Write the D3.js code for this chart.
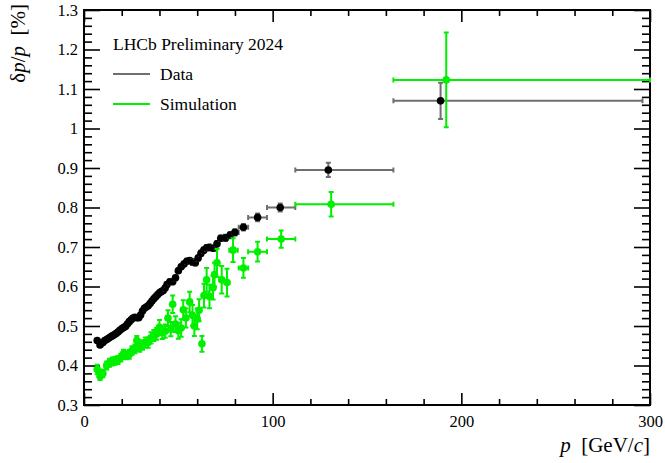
<!DOCTYPE html>
<html>
<head>
<meta charset="utf-8">
<script src="https://cdn.jsdelivr.net/npm/d3@7"></script>
<style>
  body { margin: 0; background: #fff; }
  svg text { font-family: "Liberation Serif", "Times New Roman", serif; fill: #000; }
  .title { white-space: pre; }
</style>
</head>
<body>
<div id="chart"></div>
<script>
// rows: [p, resolution, binLow, binHigh, resolutionErr]
const dataPoints = [
    [7, 0.463, 6, 8, 0.005], [8.5, 0.452, 8, 9, 0.005], [10, 0.458, 9.5, 10.5, 0.005],
    [11, 0.463, 10.5, 11.5, 0.005], [12, 0.466, 11.5, 12.5, 0.005], [13, 0.469, 12.5, 13.5, 0.005],
    [14, 0.472, 13.5, 14.5, 0.005], [15, 0.475, 14.5, 15.5, 0.005], [16, 0.478, 15.5, 16.5, 0.005],
    [17, 0.481, 16.5, 17.5, 0.005], [18, 0.485, 17.5, 18.5, 0.005], [19, 0.489, 18.5, 19.5, 0.005],
    [20, 0.493, 19.5, 20.5, 0.005], [21, 0.496, 20.5, 21.5, 0.005], [22, 0.499, 21.5, 22.5, 0.005],
    [23, 0.505, 22.5, 23.5, 0.005], [24, 0.511, 23.5, 24.5, 0.005], [25, 0.516, 24.5, 25.5, 0.005],
    [26, 0.520, 25.5, 26.5, 0.005], [27, 0.522, 26.5, 27.5, 0.005], [28, 0.521, 27.5, 28.5, 0.005],
    [29, 0.521, 28.5, 29.5, 0.005], [30, 0.528, 29.5, 30.5, 0.005], [31, 0.538, 30.5, 31.5, 0.005],
    [32, 0.545, 31.5, 32.5, 0.005], [33, 0.548, 32.5, 33.5, 0.005], [34, 0.551, 33.5, 34.5, 0.005],
    [35, 0.557, 34.5, 35.5, 0.005], [36, 0.563, 35.5, 36.5, 0.005], [37, 0.569, 36.5, 37.5, 0.005],
    [38, 0.574, 37.5, 38.5, 0.005], [39, 0.579, 38.5, 39.5, 0.005], [40, 0.584, 39.5, 40.5, 0.005],
    [41, 0.587, 40.5, 41.5, 0.006], [42, 0.590, 41.5, 42.5, 0.006], [43, 0.596, 42.5, 43.5, 0.006],
    [44, 0.605, 43.5, 44.75, 0.006], [45.5, 0.612, 44.75, 46.25, 0.006], [47, 0.612, 46.25, 47.75, 0.006],
    [48.5, 0.622, 47.75, 49.25, 0.006], [50, 0.640, 49.25, 50.75, 0.006], [51.5, 0.650, 50.75, 52.25, 0.006],
    [53, 0.657, 52.25, 53.75, 0.006], [54.5, 0.664, 53.75, 55.25, 0.006], [56, 0.666, 55.25, 56.75, 0.006],
    [57.5, 0.662, 56.75, 58.25, 0.007], [59, 0.660, 58.25, 59.75, 0.007], [60.5, 0.672, 59.75, 61.25, 0.007],
    [62, 0.684, 61.25, 62.75, 0.007], [63.5, 0.692, 62.75, 64.25, 0.007], [65, 0.698, 64.25, 65.75, 0.007],
    [66.5, 0.699, 65.75, 67.5, 0.007], [68.5, 0.697, 67.5, 69.5, 0.007], [70.5, 0.708, 69.5, 71.5, 0.007],
    [72.5, 0.722, 71.5, 73.75, 0.007], [75, 0.723, 73.75, 76.25, 0.008], [77.5, 0.730, 76.25, 78.75, 0.008],
    [80, 0.737, 78.75, 82, 0.008], [84.5, 0.750, 82, 87, 0.008], [92, 0.775, 87, 97, 0.010],
    [104, 0.800, 97, 112, 0.010], [129.5, 0.895, 112, 164, 0.018], [189, 1.070, 164, 296, 0.046]
];

const simPoints = [
    [7, 0.390, 6, 8, 0.012], [8.5, 0.373, 8, 9, 0.010], [10, 0.380, 9.5, 10.5, 0.010],
    [12, 0.400, 11.5, 12.5, 0.010], [13.5, 0.407, 13, 14, 0.010], [15, 0.410, 14.5, 15.5, 0.010],
    [16.5, 0.412, 16, 17, 0.010], [18, 0.414, 17.5, 18.5, 0.010], [19.5, 0.420, 19, 20, 0.010],
    [21, 0.430, 20.5, 21.5, 0.010], [22.5, 0.426, 22, 23, 0.010], [24, 0.428, 23.5, 24.5, 0.011],
    [25.5, 0.438, 25, 26, 0.011], [27, 0.442, 26.5, 27.5, 0.011], [28, 0.463, 27.5, 28.5, 0.012],
    [29.5, 0.447, 29, 30, 0.012], [31, 0.452, 30.5, 31.5, 0.012], [32.5, 0.458, 32, 33, 0.013],
    [34, 0.458, 33.5, 34.5, 0.013], [35.5, 0.470, 35, 36, 0.014], [37, 0.476, 36.5, 37.5, 0.014],
    [38.5, 0.480, 38, 39, 0.015], [40, 0.497, 39.5, 40.5, 0.018], [41.5, 0.483, 41, 42, 0.016],
    [43, 0.487, 42.5, 43.5, 0.017], [44.5, 0.520, 44, 45, 0.020], [46, 0.492, 45.5, 46.5, 0.018],
    [47, 0.555, 46.5, 47.5, 0.022], [48.5, 0.505, 48, 49, 0.020], [50, 0.488, 49.5, 50.5, 0.020],
    [51.5, 0.495, 51, 52, 0.022], [52.6, 0.541, 52, 53.2, 0.024], [54, 0.520, 53.5, 54.5, 0.024],
    [56, 0.561, 55.5, 56.5, 0.026], [57.5, 0.527, 57, 58, 0.026], [58.5, 0.500, 58, 59, 0.025],
    [60, 0.518, 59.5, 60.5, 0.026], [61, 0.540, 60.5, 61.5, 0.028], [62.5, 0.455, 62, 63, 0.020],
    [63.6, 0.577, 63, 64.2, 0.030], [65, 0.617, 64.3, 65.7, 0.030], [66.5, 0.575, 65.8, 67.2, 0.030],
    [68.4, 0.597, 67.6, 69.2, 0.030], [69.2, 0.630, 68.4, 70, 0.030], [70.5, 0.660, 69.6, 71.4, 0.035],
    [73, 0.617, 72, 74, 0.035], [75.8, 0.610, 74.6, 77, 0.035], [79, 0.692, 77, 81.5, 0.030],
    [84.5, 0.647, 82, 87, 0.025], [92, 0.688, 87, 97, 0.025], [104.5, 0.720, 97, 112, 0.022],
    [131, 0.808, 112, 164, 0.031], [192, 1.123, 164, 300, 0.120]
];

const xMajorTicks = [0, 100, 200, 300];
const yMajorTicks = [0.3, 0.4, 0.5, 0.6, 0.7, 0.8, 0.9, 1.0, 1.1, 1.2, 1.3];
const yTickLabels = ['0.3', '0.4', '0.5', '0.6', '0.7', '0.8', '0.9', '1', '1.1', '1.2', '1.3'];

const series = [
    { name: 'Data', points: dataPoints, bar: '#6f6f6f', marker: '#000000' },
    { name: 'Simulation', points: simPoints, bar: '#00f000', marker: '#00f000' }
];

const width = 665, height = 463;
const margin = { top: 10, right: 15, bottom: 58, left: 84 };

const svg = d3.select('#chart').append('svg')
    .attr('width', width)
    .attr('height', height);

const x = d3.scaleLinear().domain([0, 300]).range([margin.left, width - margin.right]);
const y = d3.scaleLinear().domain([0.3, 1.3]).range([height - margin.bottom, margin.top]);

// minor ticks every 20 GeV and every 0.02
const xMinor = d3.range(0, 301, 20).filter(v => v % 100 !== 0);
const yMinor = d3.range(30, 131, 2).map(v => v / 100).filter(v => Math.round(v * 100) % 10 !== 0);

function axisGroup(axis, transform) {
    const g = svg.append('g').attr('transform', transform).call(axis);
    g.select('.domain').remove();
    g.selectAll('.tick line').attr('stroke', '#000').attr('stroke-width', 1.6);
    g.selectAll('text')
        .style('font-family', '"Liberation Serif", serif')
        .style('font-size', '16.5px')
        .attr('fill', '#000');
    return g;
}

// bottom + top
axisGroup(d3.axisBottom(x).tickValues(xMajorTicks).tickSize(-12).tickPadding(10).tickFormat(d3.format('d')),
    `translate(0,${y(0.3)})`);
axisGroup(d3.axisBottom(x).tickValues(xMinor).tickSize(-6).tickFormat(''), `translate(0,${y(0.3)})`);
axisGroup(d3.axisTop(x).tickValues(xMajorTicks).tickSize(-12).tickFormat(''), `translate(0,${y(1.3)})`);
axisGroup(d3.axisTop(x).tickValues(xMinor).tickSize(-6).tickFormat(''), `translate(0,${y(1.3)})`);

// left + right
axisGroup(d3.axisLeft(y).tickValues(yMajorTicks).tickSize(-16).tickPadding(6)
    .tickFormat((d, i) => yTickLabels[i]), `translate(${x(0)},0)`);
axisGroup(d3.axisLeft(y).tickValues(yMinor).tickSize(-8).tickFormat(''), `translate(${x(0)},0)`);
axisGroup(d3.axisRight(y).tickValues(yMajorTicks).tickSize(-16).tickFormat(''), `translate(${x(300)},0)`);
axisGroup(d3.axisRight(y).tickValues(yMinor).tickSize(-8).tickFormat(''), `translate(${x(300)},0)`);

// frame
svg.append('rect')
    .attr('x', x(0)).attr('y', y(1.3))
    .attr('width', x(300) - x(0)).attr('height', y(0.3) - y(1.3))
    .attr('fill', 'none').attr('stroke', '#000').attr('stroke-width', 2);

svg.append('clipPath').attr('id', 'frame')
    .append('rect')
    .attr('x', x(0)).attr('y', y(1.3))
    .attr('width', x(300) - x(0) + 1).attr('height', y(0.3) - y(1.3));

const plot = svg.append('g').attr('clip-path', 'url(#frame)');
const cap = 2.5;

series.forEach(s => {
    const g = plot.append('g').attr('class', 'series');
    const pts = g.selectAll('g.pt').data(s.points).enter().append('g').attr('class', 'pt');

    pts.append('path')
        .attr('fill', 'none')
        .attr('stroke', s.bar)
        .attr('stroke-width', 2)
        .attr('d', d => {
            const cx = x(d[0]), cy = y(d[1]);
            const x0 = x(d[2]), x1 = x(d[3]);
            const y0 = y(d[1] - d[4]), y1 = y(d[1] + d[4]);
            return `M${x0},${cy}H${x1}` +
                `M${x0},${cy - cap}V${cy + cap}M${x1},${cy - cap}V${cy + cap}` +
                `M${cx},${y0}V${y1}` +
                `M${cx - cap},${y0}H${cx + cap}M${cx - cap},${y1}H${cx + cap}`;
        });

    pts.append('circle')
        .attr('cx', d => x(d[0]))
        .attr('cy', d => y(d[1]))
        .attr('r', 3.8)
        .attr('fill', s.marker);
});

// legend
svg.append('text')
    .attr('x', 113).attr('y', 50)
    .style('font-size', '17.5px')
    .text('LHCb Preliminary 2024');

series.forEach((s, i) => {
    const ly = 74 + i * 30;
    svg.append('line')
        .attr('x1', 113).attr('x2', 150)
        .attr('y1', ly).attr('y2', ly)
        .attr('stroke', s.bar).attr('stroke-width', 2);
    svg.append('text')
        .attr('x', 160).attr('y', ly + 6)
        .style('font-size', '17.5px')
        .text(s.name);
});

// axis titles
const yTitle = svg.append('text')
    .attr('class', 'title')
    .attr('transform', `translate(25,4) rotate(-90)`)
    .attr('text-anchor', 'end')
    .style('font-size', '21px');
yTitle.append('tspan').text('δ');
yTitle.append('tspan').style('font-style', 'italic').text('p');
yTitle.append('tspan').text('/');
yTitle.append('tspan').style('font-style', 'italic').text('p');
yTitle.append('tspan').text('  [%]');

const xTitle = svg.append('text')
    .attr('class', 'title')
    .attr('x', x(300)).attr('y', 452)
    .attr('text-anchor', 'end')
    .style('font-size', '21px');
xTitle.append('tspan').style('font-style', 'italic').text('p');
xTitle.append('tspan').text('  [GeV/');
xTitle.append('tspan').style('font-style', 'italic').text('c');
xTitle.append('tspan').text(']');
</script>
</body>
</html>
